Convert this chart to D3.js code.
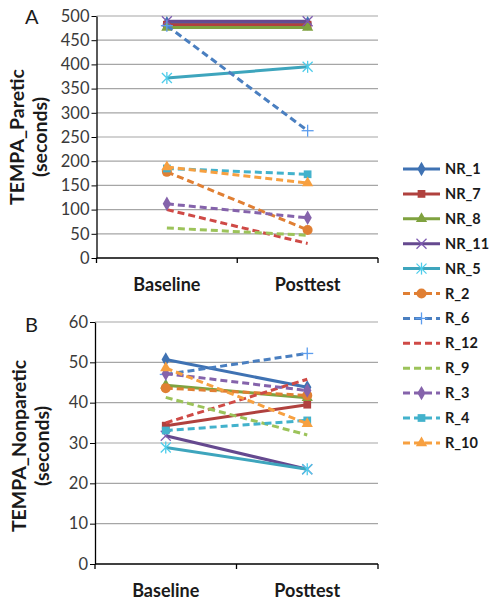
<!DOCTYPE html>
<html><head><meta charset="utf-8">
<script src="https://cdn.jsdelivr.net/npm/d3@7"></script>
<style>body{margin:0;background:#fff}svg{display:block}</style>
</head><body><svg id="c" width="492" height="606"></svg>
<script>
const categories = ["Baseline", "Posttest"];
const seriesNames = ["NR_1","NR_7","NR_8","NR_11","NR_5","R_2","R_6","R_12","R_9","R_3","R_4","R_10"];
const seriesColors = ["#3f72b3","#b0413e","#7fa23f","#65498f","#3ea5bd","#e07f33","#4a7fc0","#cf4a46","#9cc35a","#8563ab","#43b2cc","#f7a040"];
const seriesDashed = [false,false,false,false,false,true,true,true,true,true,true,true];
const seriesMarkers = ["diamond","square","triangle","x","asterisk","circle","plus","none","none","diamond","square","triangle"];
// Panel A: TEMPA_Paretic (seconds)  [Baseline, Posttest]
const pareticValues = [
  [485, 485], [482, 482], [476, 476], [489, 489], [372, 395],
  [178, 58], [480, 263], [100, 30], [62, 47], [112, 83], [185, 173], [188, 155]
];
// Panel B: TEMPA_Nonparetic (seconds)
const nonpareticValues = [
  [50.7, 43.8], [34.3, 39.5], [44.3, 41.2], [31.8, 23.5], [28.9, 23.5],
  [43.6, 41.8], [47.0, 52.2], [35.0, 45.8], [41.3, 32.0], [47.2, 43.0], [33.1, 35.6], [48.6, 34.8]
];
const pareticTicks = [0,50,100,150,200,250,300,350,400,450,500];
const nonpareticTicks = [0,10,20,30,40,50,60];

const svg = d3.select("#c");
const FONT = "Lato, 'Open Sans', sans-serif";

function marker(g, type, color, s) {
  s = s || 1;
  if (type === "none") return;
  if (type === "diamond") g.append("path").attr("d", d3.symbol(d3.symbolDiamond, 60*s)()).attr("fill", color);
  else if (type === "square") g.append("path").attr("d", d3.symbol(d3.symbolSquare, 60*s)()).attr("fill", color);
  else if (type === "triangle") g.append("path").attr("d", d3.symbol(d3.symbolTriangle, 55*s)()).attr("fill", color);
  else if (type === "circle") g.append("circle").attr("r", 5).attr("fill", color);
  else {
    const r = 5;
    let segs = [];
    if (type === "x" || type === "asterisk") segs.push([-r,-r,r,r],[-r,r,r,-r]);
    if (type === "asterisk" || type === "plus") segs.push([0,-r-1,0,r+1]);
    if (type === "plus") segs.push([-r-1,0,r+1,0]);
    const c = d3.color(color).brighter(0.6);
    segs.forEach(q => g.append("line").attr("x1",q[0]).attr("y1",q[1]).attr("x2",q[2]).attr("y2",q[3])
      .attr("stroke", c).attr("stroke-width", 1.3));
  }
}

function panel(opt) {
  const x = d3.scaleBand().domain(categories).range([opt.x0, opt.x1]).padding(0);
  const y = d3.scaleLinear().domain(opt.domain).range([opt.yBottom, opt.yTop]);
  const g = svg.append("g");
  // grid
  g.selectAll(".grid").data(opt.ticks.filter(t => t !== opt.domain[0])).join("line")
    .attr("x1", opt.x0).attr("x2", opt.x1).attr("y1", d => y(d)).attr("y2", d => y(d))
    .attr("stroke", "#a6a6a6").attr("stroke-width", 1.2);
  // y axis
  const ya = g.append("g").attr("transform", `translate(${opt.x0},0)`)
    .call(d3.axisLeft(y).tickValues(opt.ticks).tickSize(5).tickSizeOuter(0).tickPadding(2));
  ya.select(".domain").attr("stroke", "#000").attr("stroke-width", 1.3);
  ya.selectAll(".tick line").attr("stroke", "#000");
  ya.selectAll("text").attr("font-family", FONT).attr("font-size", 16.5).attr("fill", "#3a3a3a");
  // x axis
  const xa = g.append("g").attr("transform", `translate(0,${opt.yBottom})`)
    .call(d3.axisBottom(x).tickSize(0).tickPadding(20));
  xa.select(".domain").remove();
  g.append("line").attr("x1", opt.x0).attr("x2", opt.x1).attr("y1", opt.yBottom).attr("y2", opt.yBottom)
    .attr("stroke", "#000").attr("stroke-width", 1.3);
  [opt.x0, opt.x0 + x.bandwidth(), opt.x1].forEach(tx =>
    g.append("line").attr("x1", tx).attr("x2", tx).attr("y1", opt.yBottom).attr("y2", opt.yBottom + 5)
      .attr("stroke", "#000").attr("stroke-width", 1.3));
  xa.selectAll("text").attr("font-family", FONT).attr("font-size", 18).attr("font-weight", "bold").attr("fill", "#1a1a1a");
  // titles
  const t = g.append("text").attr("transform", `translate(${opt.titleX},${opt.titleY}) rotate(-90)`)
    .attr("text-anchor", "middle").attr("font-family", FONT).attr("font-size", 19.5).attr("font-weight", "bold").attr("fill", "#1a1a1a");
  t.append("tspan").attr("x", 0).attr("dy", 0).text(opt.title1);
  t.append("tspan").attr("x", 0).attr("dy", 23).text("(seconds)");
  g.append("text").attr("x", opt.letterX).attr("y", opt.letterY).attr("font-family", FONT).attr("font-size", 20)
    .attr("fill", "#1a1a1a").text(opt.letter);
  // lines
  const line = d3.line().x(d => x(d.c) + x.bandwidth()/2).y(d => y(d.v));
  d3.range(seriesNames.length).forEach(i => {
    const pts = categories.map((c, k) => ({c, v: opt.values[i][k]}));
    g.append("path").attr("d", line(pts)).attr("fill", "none").attr("stroke", seriesColors[i])
      .attr("stroke-width", 3).attr("stroke-dasharray", seriesDashed[i] ? "7,4" : null);
    pts.forEach(p => {
      const mg = g.append("g").attr("transform", `translate(${x(p.c) + x.bandwidth()/2},${y(p.v)})`);
      marker(mg, seriesMarkers[i], seriesColors[i]);
    });
  });
}

panel({x0: 96.5, x1: 378, yTop: 16, yBottom: 258, domain: [0, 500], ticks: pareticTicks,
  values: pareticValues, title1: "TEMPA_Paretic", titleX: 24, titleY: 137, letter: "A", letterX: 25, letterY: 24});
panel({x0: 95, x1: 378, yTop: 322, yBottom: 564, domain: [0, 60], ticks: nonpareticTicks,
  values: nonpareticValues, title1: "TEMPA_Nonparetic", titleX: 26, titleY: 446, letter: "B", letterX: 25, letterY: 332});

// legend
const lg = svg.append("g");
seriesNames.forEach((n, i) => {
  const yy = 169 + i * 24.9;
  lg.append("line").attr("x1", 403).attr("x2", 440).attr("y1", yy).attr("y2", yy)
    .attr("stroke", seriesColors[i]).attr("stroke-width", 3).attr("stroke-dasharray", seriesDashed[i] ? "7,4" : null);
  const mg = lg.append("g").attr("transform", `translate(421.5,${yy})`);
  marker(mg, seriesMarkers[i], seriesColors[i]);
  lg.append("text").attr("x", 445).attr("y", yy + 5).attr("font-family", FONT).attr("font-size", 14.5)
    .attr("font-weight", "bold").attr("fill", "#1a1a1a").text(n);
});
</script></body></html>
